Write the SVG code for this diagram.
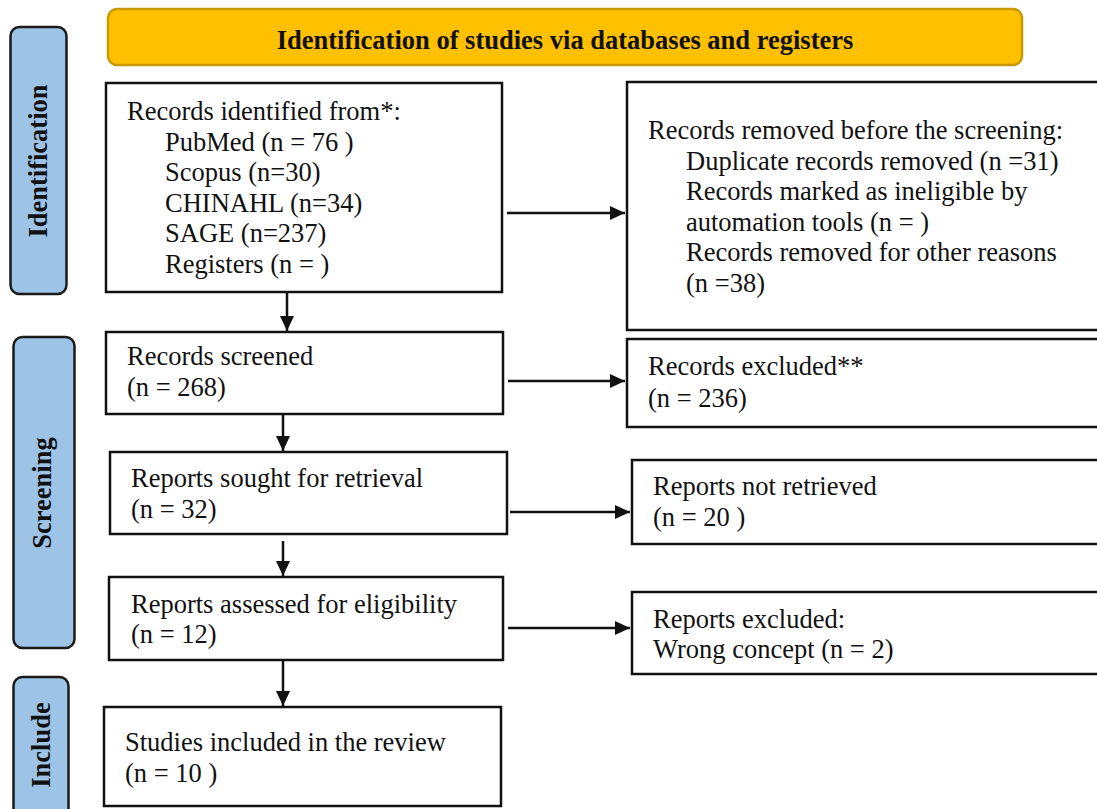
<svg xmlns="http://www.w3.org/2000/svg" width="1097" height="809" viewBox="0 0 1097 809">
<style>
.box{fill:#ffffff;stroke:#111111;stroke-width:2.5}
.side{fill:#9DC3E6;stroke:#1a1a1a;stroke-width:2.5}
.hdr{fill:#FFC000;stroke:#C99A00;stroke-width:2.5}
.t{font-family:"Liberation Serif","Times New Roman",serif;font-size:26.5px;fill:#111111}
.b{font-family:"Liberation Serif","Times New Roman",serif;font-size:26.5px;font-weight:bold;fill:#111111}
.c{stroke:#111111;stroke-width:2.5;fill:none;marker-end:url(#ah)}
</style>
<defs>
<marker id="ah" markerUnits="userSpaceOnUse" markerWidth="16" markerHeight="14" refX="15" refY="7" orient="auto">
<path d="M0,0 L15,7 L0,14 Z" fill="#111111"/>
</marker>
</defs>
<g id="header">
<rect class="hdr" x="108" y="9" width="914" height="56" rx="9"/>
<text class="b" x="565" y="49" text-anchor="middle">Identification of studies via databases and registers</text>
</g>
<g id="stage-identification">
<rect class="side" x="10.5" y="27" width="56" height="267" rx="9"/>
<text class="b" transform="translate(47,161) rotate(-90)" text-anchor="middle">Identification</text>
</g>
<g id="stage-screening">
<rect class="side" x="13.5" y="337" width="61" height="311" rx="9"/>
<text class="b" transform="translate(51,493) rotate(-90)" text-anchor="middle">Screening</text>
</g>
<g id="stage-include">
<rect class="side" x="13.5" y="677" width="55" height="150" rx="9"/>
<text class="b" transform="translate(50,745) rotate(-90)" text-anchor="middle">Include</text>
</g>
<g id="records-identified">
<rect class="box" x="106" y="83" width="396" height="209"/>
<text class="t" x="127" y="120">Records identified from*:</text>
<text class="t" x="165" y="151">PubMed (n = 76 )</text>
<text class="t" x="165" y="181">Scopus (n=30)</text>
<text class="t" x="165" y="212">CHINAHL (n=34)</text>
<text class="t" x="165" y="242">SAGE (n=237)</text>
<text class="t" x="165" y="273">Registers (n = )</text>
</g>
<g id="records-removed">
<rect class="box" x="627" y="82" width="490" height="248"/>
<text class="t" x="648" y="139">Records removed before the screening:</text>
<text class="t" x="686" y="170">Duplicate records removed (n =31)</text>
<text class="t" x="686" y="200">Records marked as ineligible by</text>
<text class="t" x="686" y="231">automation tools (n = )</text>
<text class="t" x="686" y="261">Records removed for other reasons</text>
<text class="t" x="686" y="292">(n =38)</text>
</g>
<g id="records-screened">
<rect class="box" x="106" y="332" width="397" height="82"/>
<text class="t" x="127" y="365">Records screened</text>
<text class="t" x="127" y="396">(n = 268)</text>
</g>
<g id="records-excluded">
<rect class="box" x="627" y="339" width="490" height="88"/>
<text class="t" x="648" y="375">Records excluded**</text>
<text class="t" x="648" y="407">(n = 236)</text>
</g>
<g id="reports-sought">
<rect class="box" x="110" y="452" width="397" height="82"/>
<text class="t" x="131" y="487">Reports sought for retrieval</text>
<text class="t" x="131" y="518">(n = 32)</text>
</g>
<g id="reports-not-retrieved">
<rect class="box" x="632" y="460" width="485" height="84"/>
<text class="t" x="653" y="495">Reports not retrieved</text>
<text class="t" x="653" y="526">(n = 20 )</text>
</g>
<g id="reports-assessed">
<rect class="box" x="109" y="577" width="394" height="83"/>
<text class="t" x="131" y="613">Reports assessed for eligibility</text>
<text class="t" x="131" y="643">(n = 12)</text>
</g>
<g id="reports-excluded">
<rect class="box" x="632" y="592" width="485" height="82"/>
<text class="t" x="653" y="628">Reports excluded:</text>
<text class="t" x="653" y="658">Wrong concept (n = 2)</text>
</g>
<g id="studies-included">
<rect class="box" x="104" y="707" width="397" height="99"/>
<text class="t" x="125" y="751">Studies included in the review</text>
<text class="t" x="125" y="782">(n = 10 )</text>
</g>
<g id="connectors">
<line class="c" x1="507" y1="213" x2="625" y2="213"/>
<line class="c" x1="508" y1="381" x2="625" y2="381"/>
<line class="c" x1="510" y1="512" x2="630" y2="512"/>
<line class="c" x1="508" y1="628" x2="630" y2="628"/>
<line class="c" x1="287" y1="293" x2="287" y2="331"/>
<line class="c" x1="283" y1="415" x2="283" y2="451"/>
<line class="c" x1="283" y1="541" x2="283" y2="576"/>
<line class="c" x1="283" y1="661" x2="283" y2="706"/>
</g>
</svg>
